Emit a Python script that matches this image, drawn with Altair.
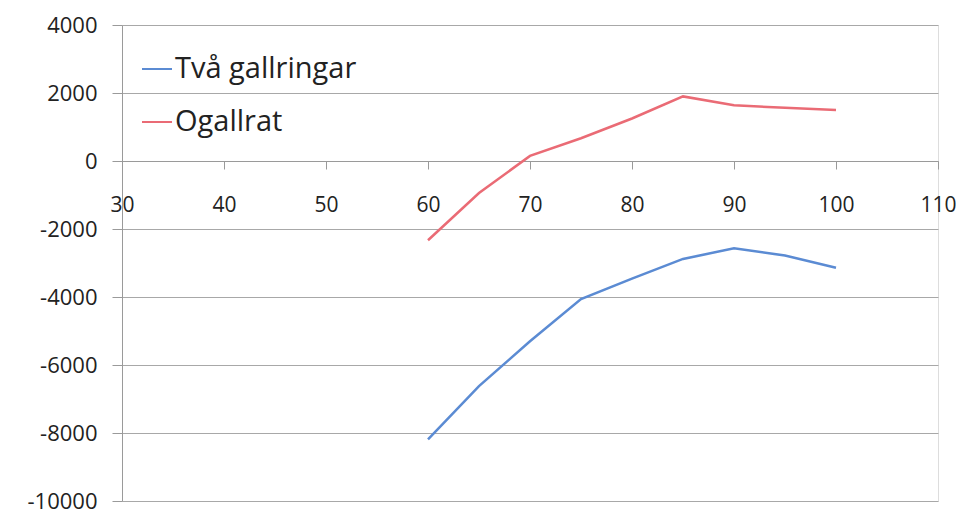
import altair as alt
import pandas as pd

ages = [60, 65, 70, 75, 80, 85, 90, 95, 100]
tva_gallringar = [-8190, -6620, -5300, -4060, -3460, -2880, -2570, -2780, -3140]
ogallrat = [-2330, -940, 150, 670, 1250, 1900, 1640, 1565, 1500]
series_names = ["Två gallringar", "Ogallrat"]
series_colors = ["#5b8bd3", "#ea6b75"]

rows = []
for a, v in zip(ages, tva_gallringar):
    rows.append({"x": a, "y": v, "serie": series_names[0]})
for a, v in zip(ages, ogallrat):
    rows.append({"x": a, "y": v, "serie": series_names[1]})
df = pd.DataFrame(rows)

W, H = 816, 476
ymin, ymax = -10000, 4000
zero_px = H * (ymax - 0) / (ymax - ymin)
font = "Open Sans"

chart = alt.Chart(df).mark_line(strokeWidth=2.5).encode(
    x=alt.X("x:Q", scale=alt.Scale(domain=[30, 110], nice=False, zero=False),
            axis=alt.Axis(title=None, values=list(range(30, 111, 10)), grid=False,
                          orient="bottom", offset=-(H - zero_px),
                          domainColor="#9a9a9a", tickColor="#9a9a9a", tickSize=8,
                          labelFontSize=21, labelFont=font, labelColor="#222222",
                          labelExpr="'' + datum.value",
                          labelPadding=25, labelFlush=False)),
    y=alt.Y("y:Q", scale=alt.Scale(domain=[ymin, ymax], nice=False),
            axis=alt.Axis(title=None, values=list(range(-10000, 4001, 2000)),
                          grid=True, gridColor="#a8a8a8", gridWidth=1,
                          domainColor="#9a9a9a", tickColor="#9a9a9a", tickSize=10,
                          labelFontSize=22, labelFont=font, labelColor="#222222",
                          labelExpr="'' + datum.value",
                          labelPadding=15)),
    color=alt.Color("serie:N", sort=series_names,
                    scale=alt.Scale(domain=series_names, range=series_colors),
                    legend=alt.Legend(title=None, orient="none", legendX=19, legendY=28,
                                      symbolType="stroke", symbolSize=900,
                                      symbolStrokeWidth=2, labelFontSize=29,
                                      labelFont=font, labelColor="#222222",
                                      labelLimit=0,
                                      rowPadding=22, labelOffset=2)),
).properties(
    width=W, height=H,
    autosize=alt.AutoSizeParams(type="none"),
    padding={"left": 114, "top": 17, "right": 18, "bottom": 14},
).configure_view(stroke=None).configure(background="white")

chart.save("out.html", embed_options={"renderer": "svg", "actions": False})
